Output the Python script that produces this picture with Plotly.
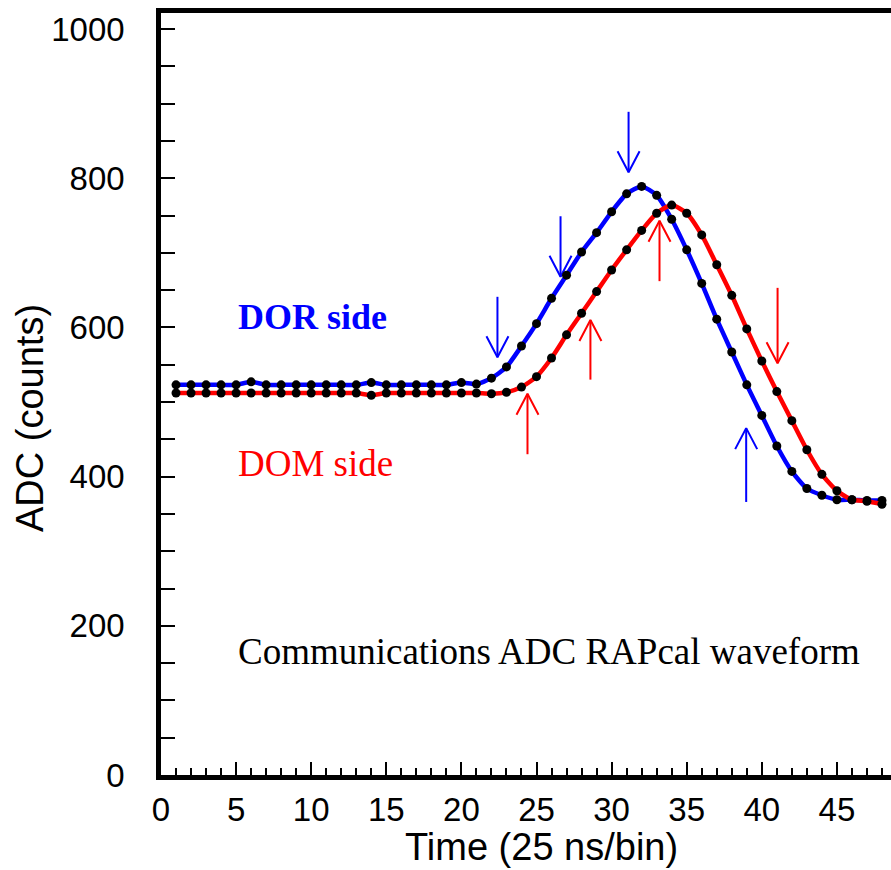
import plotly.graph_objects as go

# ---- data ----
time_bins = list(range(1, 49))

dor_adc = [523, 523, 523, 523, 523, 527, 523, 523, 523, 523,
           523, 523, 523, 526, 523, 523, 523, 523, 523, 526,
           524, 532, 547, 575, 605, 639, 670, 701, 727, 755,
           779, 789, 777, 745, 704, 659, 611, 567, 523, 482,
           441, 407, 384, 375, 369, 369, 368, 368]

dom_adc = [512, 512, 512, 512, 512, 512, 512, 512, 512, 512,
           512, 512, 512, 509, 512, 512, 512, 512, 512, 512,
           512, 511, 513, 520, 534, 559, 590, 619, 648, 677,
           704, 730, 753, 764, 753, 724, 684, 643, 598, 555,
           514, 475, 436, 403, 381, 369, 367, 363]

# arrows: x position, tail value, head value
dor_arrow_x = [22.40, 26.60, 31.13, 38.96]
dor_arrow_tail = [641, 749, 889, 366]
dor_arrow_head = [560, 668, 808, 465]

dom_arrow_x = [24.40, 28.59, 33.19, 41.05]
dom_arrow_tail = [430, 530, 662, 653]
dom_arrow_head = [511, 610, 743, 552]

x_ticks = [0, 5, 10, 15, 20, 25, 30, 35, 40, 45]
y_ticks = [0, 200, 400, 600, 800, 1000]

BLUE = "#0000ff"
RED = "#ff0000"

W, H = 891, 870
ML, MR, MT, MB = 161, 0, 13, 95
PX_PER_X = 15.02
PX_PER_Y = 0.746
PLOT_W = W - ML - MR
PLOT_H = H - MT - MB
x_max = PLOT_W / PX_PER_X
y_max = PLOT_H / PX_PER_Y

fig = go.Figure()


def arrow_path(xs, tails, heads):
    wx = 11 / PX_PER_X
    wy = 21 / PX_PER_Y
    px, py = [], []
    for x, t, h in zip(xs, tails, heads):
        d = 1 if h > t else -1
        px += [x, x, None, x - wx, x, x + wx, None]
        py += [t, h, None, h - d * wy, h, h - d * wy, None]
    return px, py


for xs, ts, hs, col in [(dor_arrow_x, dor_arrow_tail, dor_arrow_head, BLUE),
                        (dom_arrow_x, dom_arrow_tail, dom_arrow_head, RED)]:
    ax, ay = arrow_path(xs, ts, hs)
    fig.add_trace(go.Scatter(x=ax, y=ay, mode="lines",
                             line=dict(color=col, width=2),
                             hoverinfo="skip", showlegend=False))

for vals, col, name in [(dor_adc, BLUE, "DOR side"), (dom_adc, RED, "DOM side")]:
    fig.add_trace(go.Scatter(x=time_bins, y=vals, mode="lines+markers", name=name,
                             line=dict(color=col, width=4.5, shape="spline", smoothing=0.6),
                             marker=dict(color="black", size=9),
                             showlegend=False))

serif = "Liberation Serif, Times New Roman, serif"
fig.add_annotation(x=5, y=614, xref="x", yref="y", text="<b>DOR side</b>",
                   showarrow=False, xanchor="left", yanchor="middle",
                   font=dict(family=serif, size=36, color=BLUE))
fig.add_annotation(x=5, y=417, xref="x", yref="y", text="DOM side",
                   showarrow=False, xanchor="left", yanchor="middle",
                   font=dict(family=serif, size=37, color=RED))
fig.add_annotation(x=5, y=165, xref="x", yref="y",
                   text="Communications ADC RAPcal waveform",
                   showarrow=False, xanchor="left", yanchor="middle",
                   font=dict(family=serif, size=37, color="black"))

sans = "Liberation Sans, Arial, sans-serif"
# axis titles
fig.add_annotation(x=(541 - ML) / PLOT_W, y=-(847 - (H - MB)) / PLOT_H,
                   xref="paper", yref="paper", text="Time (25 ns/bin)",
                   showarrow=False, xanchor="center", yanchor="middle",
                   font=dict(family=sans, size=38, color="black"))
fig.add_annotation(x=(30 - ML) / PLOT_W, y=((H - MB) - 418) / PLOT_H,
                   xref="paper", yref="paper", text="ADC (counts)", textangle=-90,
                   showarrow=False, xanchor="center", yanchor="middle",
                   font=dict(family=sans, size=38, color="black"))

fig.update_layout(
    width=W, height=H,
    margin=dict(l=ML, r=MR, t=MT, b=MB),
    paper_bgcolor="white", plot_bgcolor="white",
    xaxis=dict(range=[0, x_max], tickvals=x_ticks, ticks="inside", ticklen=13,
               tickwidth=2, tickcolor="black", showline=True, linewidth=4.5,
               linecolor="black", mirror=True, showgrid=False, zeroline=False,
               automargin=False,
               tickfont=dict(family=sans, size=33, color="black"),
               ticklabelstandoff=2,
               minor=dict(dtick=1, ticks="inside", ticklen=7, tickwidth=2,
                          tickcolor="black", showgrid=False)),
    yaxis=dict(range=[0, y_max], tickvals=y_ticks, ticks="inside", ticklen=14,
               tickwidth=2, tickcolor="black", showline=True, linewidth=4.5,
               linecolor="black", mirror=False, showgrid=False, zeroline=False,
               automargin=False,
               tickfont=dict(family=sans, size=33, color="black"),
               ticklabelstandoff=25,
               minor=dict(dtick=50, ticks="inside", ticklen=14, tickwidth=2,
                          tickcolor="black", showgrid=False)),
)

fig.write_html(
    "out.html",
    config={"displayModeBar": False},
    post_script="document.body.style.margin='0px';document.body.style.overflow='hidden';",
)
